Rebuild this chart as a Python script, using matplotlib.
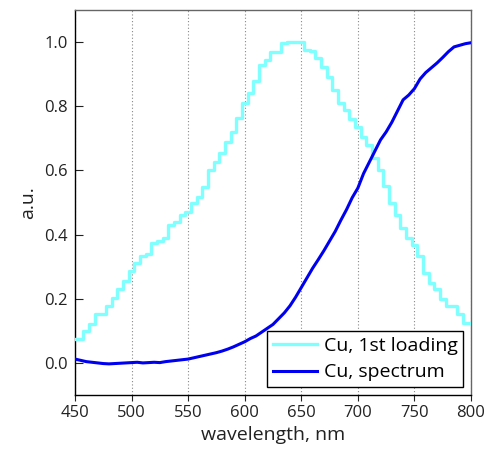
import matplotlib
matplotlib.use("Agg")
import matplotlib.pyplot as plt
import numpy as np

plt.rcParams['font.family'] = ['Open Sans', 'DejaVu Sans']

wavelength = list(range(450, 801, 5))

loading = [0.075, 0.075, 0.10, 0.122, 0.153, 0.153, 0.178, 0.203, 0.23, 0.256,
           0.287, 0.31, 0.334, 0.34, 0.375, 0.38, 0.39, 0.43, 0.44, 0.46,
           0.47, 0.497, 0.516, 0.547, 0.60, 0.625, 0.653, 0.69, 0.72, 0.762,
           0.81, 0.84, 0.88, 0.93, 0.944, 0.969, 0.969, 0.997, 1.0, 1.0,
           1.0, 0.975, 0.972, 0.95, 0.922, 0.89, 0.85, 0.81, 0.787, 0.76,
           0.734, 0.703, 0.678, 0.64, 0.60, 0.55, 0.497, 0.46, 0.42, 0.39,
           0.366, 0.334, 0.28, 0.25, 0.23, 0.20, 0.178, 0.178, 0.153, 0.125,
           0.125]

spectrum = [0.012, 0.008, 0.004, 0.002, 0.0, -0.002, -0.003, -0.002, -0.001, 0.0,
            0.001, 0.002, 0.0, 0.001, 0.002, 0.001, 0.004, 0.006, 0.008, 0.010,
            0.012, 0.016, 0.020, 0.024, 0.028, 0.032, 0.037, 0.043, 0.050, 0.058,
            0.066, 0.076, 0.084, 0.096, 0.108, 0.120, 0.138, 0.156, 0.178, 0.205,
            0.235, 0.265, 0.295, 0.322, 0.350, 0.380, 0.410, 0.445, 0.478, 0.515,
            0.545, 0.590, 0.625, 0.660, 0.695, 0.720, 0.750, 0.785, 0.820, 0.835,
            0.855, 0.885, 0.905, 0.920, 0.935, 0.952, 0.970, 0.985, 0.990, 0.995,
            0.998]

xticks = [450, 500, 550, 600, 650, 700, 750, 800]
yticks = [0.0, 0.2, 0.4, 0.6, 0.8, 1.0]

fig = plt.figure(figsize=(4.85, 4.5), dpi=100)
ax = fig.add_axes([75/485, 1-395/450, (471-75)/485, (395-10)/450])

ax.plot(wavelength, loading, drawstyle='steps-mid', color='#80ffff', lw=2.4,
        label='Cu, 1st loading', zorder=3)
ax.plot(wavelength, spectrum, color='#0000f0', lw=2.2, label='Cu, spectrum', zorder=4)

ax.set_xlim(450, 800)
ax.set_ylim(-0.1, 1.1)
ax.set_xticks(xticks)
ax.set_yticks(yticks)
ax.set_yticklabels([f"{v:.1f}" for v in yticks])
ax.xaxis.grid(True, color='#888888', linestyle=(0, (1, 2)), lw=0.8)
ax.tick_params(axis='x', direction='out', length=4, labelsize=12, colors='#222222', pad=3)
ax.tick_params(axis='y', direction='in', length=6, labelsize=12, colors='#222222', pad=5)
for s in ['left', 'bottom']:
    ax.spines[s].set_color('black')
    ax.spines[s].set_linewidth(1.0)
for s in ['top', 'right']:
    ax.spines[s].set_color('#666666')
    ax.spines[s].set_linewidth(1.0)

ax.set_xlabel('wavelength, nm', fontsize=14, color='#222222', labelpad=4)
ax.set_ylabel('a.u.', fontsize=14, color='#222222', labelpad=5)

leg = ax.legend(loc='lower right', fontsize=14, frameon=True, fancybox=False,
                edgecolor='black', framealpha=1, handlelength=2.25,
                borderpad=0.3, labelspacing=0.45, handletextpad=0.35,
                borderaxespad=0.4)
leg.get_frame().set_linewidth(1.0)

fig.savefig('out.png', dpi=100)
